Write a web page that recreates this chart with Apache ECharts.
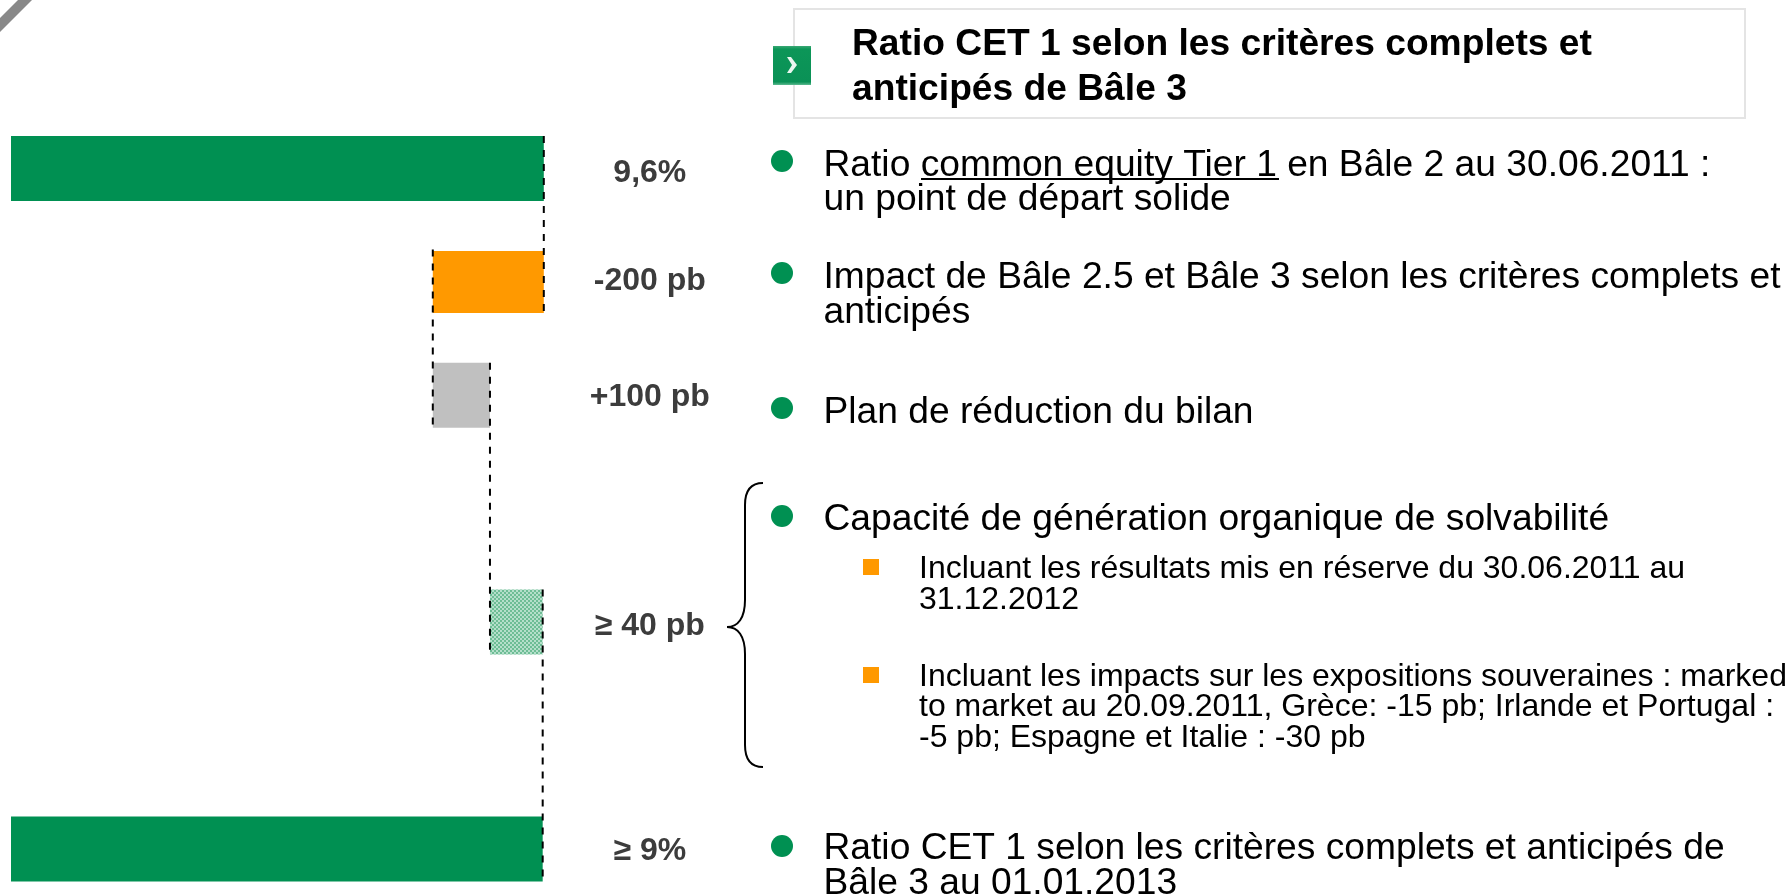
<!DOCTYPE html>
<html><head><meta charset="utf-8">
<style>html,body{margin:0;padding:0;background:#fff}#c{width:1791px;height:896px}</style>
<script src="https://cdn.jsdelivr.net/npm/echarts@6/dist/echarts.min.js"></script>
</head><body><div id="c"></div>
<script>
// Data
const categories = ['Bâle 2', 'Impact', 'Plan', '', 'Capacité', '', 'Bâle 3'];
const barLow  = [0, 7.6, 7.6, null, 8.63, null, 0];
const barHigh = [9.6, 9.6, 8.63, null, 9.58, null, 9.58];
const valueLabels = ['9,6%', '-200 pb', '+100 pb', '', '≥ 40 pb', '', '≥ 9%'];
// connectors: value, first row, last row
const connectorValue = [9.6, 7.6, 8.63, 9.58];
const connectorFrom = [0, 1, 2, 4];
const connectorTo = [1, 2, 4, 6];

const GREEN = '#009052', ORANGE = '#ff9900', GREY = '#c0c0c0';
function hatch() {
  const c = document.createElement('canvas'); c.width = 4; c.height = 4;
  const g = c.getContext('2d');
  g.fillStyle = '#b4dfca'; g.fillRect(0, 0, 4, 4);
  g.fillStyle = '#6dbd95'; g.fillRect(0, 0, 2, 2); g.fillRect(2, 2, 2, 2);
  return { image: c, repeat: 'repeat' };
}
const hatchFill = hatch();
const fills = [GREEN, ORANGE, GREY, null, hatchFill, null, GREEN];
const thickness = [65, 62, 65, null, 65, null, 65];
const labelNudge = [5, -0.4, 2.2, 0, 4.5, 0, 2.6];
const HALF = 32.5;

const FONT = '"Liberation Sans", Arial, sans-serif';
function txt(x, y, text, size, bold) {
  return { type: 'text', x, y, silent: true, style: { text, font: (bold ? 'bold ' : '') + size + 'px ' + FONT, fill: '#000', textVerticalAlign: 'bottom' } };
}
function dot(cy) { return { type: 'circle', shape: { cx: 782, cy, r: 11 }, style: { fill: GREEN } }; }
function sq(y) { return { type: 'rect', shape: { x: 863, y, width: 16, height: 16 }, style: { fill: ORANGE } }; }
function curve(x1, y1, cpx1, cpy1, cpx2, cpy2, x2, y2) {
  return { type: 'bezierCurve', shape: { x1, y1, cpx1, cpy1, cpx2, cpy2, x2, y2 }, style: { stroke: '#000', lineWidth: 2, fill: null } };
}
function seg(x1, y1, x2, y2) { return { type: 'line', shape: { x1, y1, x2, y2 }, style: { stroke: '#000', lineWidth: 2 } }; }
const L = 37.2, S = 32, T = 37.2;
const textLines = [
  [852, 55, 'Ratio CET 1 selon les critères complets et', T, true],
  [852, 100, 'anticipés de Bâle 3', T, true],
  [823.5, 176, 'Ratio common equity Tier 1 en Bâle 2 au 30.06.2011 :', L],
  [823.5, 210, 'un point de départ solide', L],
  [823.5, 288, 'Impact de Bâle 2.5 et Bâle 3 selon les critères complets et', L],
  [823.5, 323, 'anticipés', L],
  [823.5, 423, 'Plan de réduction du bilan', L],
  [823.5, 530, 'Capacité de génération organique de solvabilité', L],
  [919, 578, 'Incluant les résultats mis en réserve du 30.06.2011 au', S],
  [919, 609, '31.12.2012', S],
  [919, 686, 'Incluant les impacts sur les expositions souveraines : marked', S],
  [919, 716, 'to market au 20.09.2011, Grèce: -15 pb; Irlande et Portugal :', S],
  [919, 747, '-5 pb; Espagne et Italie : -30 pb', S],
  [823.5, 859, 'Ratio CET 1 selon les critères complets et anticipés de', L],
  [823.5, 894, 'Bâle 3 au 01.01.2013', L]
];
// baseline → bottom-of-box correction (descent ≈ 0.212 em)
const graphic = [
  { type: 'rect', shape: { x: 794, y: 9, width: 951, height: 109 }, style: { fill: '#fff', stroke: '#e4e4e4', lineWidth: 2 } },
  { type: 'rect', shape: { x: 773, y: 46, width: 38, height: 39 }, style: { fill: new echarts.graphic.LinearGradient(0, 0, 0, 1, [{ offset: 0, color: '#3aa874' }, { offset: 0.08, color: '#0c9658' }, { offset: 0.92, color: '#0a9156' }, { offset: 1, color: '#5dba90' }]) } },
  { type: 'polygon', shape: { points: [[787, 57], [791, 57], [797, 65], [791, 73], [787, 73], [792, 65]] }, style: { fill: '#eaf6f0' } },
  { type: 'polygon', shape: { points: [[0, 18], [18, 0], [32, 0], [0, 32]] }, style: { fill: '#888888' } },
  curve(763, 483, 750, 483, 745, 492, 745, 505),
  seg(745, 505, 745, 600),
  curve(745, 600, 745, 618, 738, 627, 727, 627),
  curve(727, 627, 738, 627, 745, 636, 745, 654),
  seg(745, 654, 745, 745),
  curve(745, 745, 745, 758, 750, 767, 763, 767),
  seg(921, 179, 1279, 179),
  dot(161), dot(273), dot(408), dot(516), dot(846), sq(559), sq(667)
].concat(textLines.map(l => txt(l[0], l[1] + Math.round(l[3] * 0.212), l[2], l[3], l[4])));

const chart = echarts.init(document.getElementById('c'), null, { renderer: 'canvas' });
chart.setOption({
  animation: false,
  backgroundColor: '#fff',
  grid: { left: 11, top: 111.8, width: 666, height: 793.8, outerBoundsMode: 'none' },
  xAxis: { type: 'value', min: 0, max: 12, show: false },
  yAxis: { type: 'category', inverse: true, data: categories, show: false },
  graphic: { elements: graphic },
  series: [
    {
      type: 'custom', clip: false, z: 2,
      encode: { x: [1, 2], y: 0 },
      data: categories.map((c, i) => [i, barLow[i], barHigh[i]]).filter(d => d[1] !== null),
      renderItem(params, api) {
        const i = api.value(0), a = api.coord([api.value(1), i]), b = api.coord([api.value(2), i]);
        const h = thickness[i];
        return { type: 'rect', shape: { x: a[0], y: a[1] - h / 2, width: b[0] - a[0], height: h }, style: { fill: fills[i] } };
      }
    },
    {
      type: 'custom', clip: false, z: 3,
      encode: { x: 0, y: [1, 2] },
      data: connectorValue.map((v, i) => [v, connectorFrom[i], connectorTo[i]]),
      renderItem(params, api) {
        const v = api.value(0), p = api.coord([v, api.value(1)]), q = api.coord([v, api.value(2)]);
        return { type: 'line', shape: { x1: p[0], y1: p[1] - HALF, x2: q[0], y2: q[1] + HALF }, style: { stroke: '#000', lineWidth: 2, lineDash: [7, 7] } };
      }
    },
    {
      type: 'custom', clip: false, z: 4,
      encode: { x: 0, y: 1 },
      data: categories.map((c, i) => [11.51, i]).filter((d, i) => valueLabels[i]),
      renderItem(params, api) {
        const i = api.value(1), p = api.coord([api.value(0), i]);
        return { type: 'text', x: p[0], y: p[1] + labelNudge[i], style: { text: valueLabels[i], font: 'bold 32px ' + FONT, fill: '#3c3c3c', textAlign: 'center', textVerticalAlign: 'middle' } };
      }
    }
  ]
});
</script></body></html>
